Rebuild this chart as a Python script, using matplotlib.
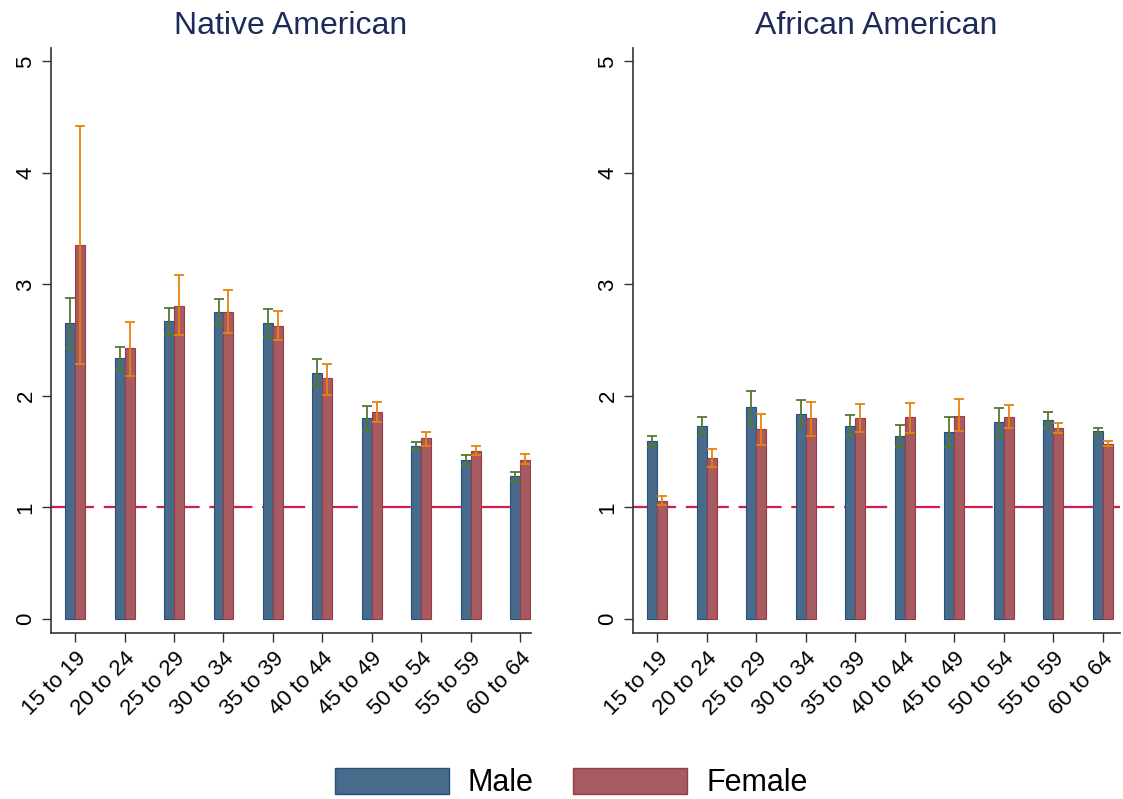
import numpy as np
import matplotlib
matplotlib.use("Agg")
import matplotlib.pyplot as plt
from matplotlib.patches import Patch

plt.rcParams["font.family"] = ["Liberation Sans", "DejaVu Sans"]
plt.rcParams["lines.scale_dashes"] = False

age_groups = ["15 to 19", "20 to 24", "25 to 29", "30 to 34", "35 to 39",
              "40 to 44", "45 to 49", "50 to 54", "55 to 59", "60 to 64"]

# Native American
na_male = [2.65, 2.34, 2.67, 2.75, 2.65, 2.21, 1.80, 1.55, 1.43, 1.28]
na_male_lo = [2.43, 2.23, 2.55, 2.64, 2.53, 2.09, 1.69, 1.52, 1.38, 1.24]
na_male_hi = [2.88, 2.44, 2.79, 2.87, 2.78, 2.33, 1.91, 1.59, 1.47, 1.32]
na_female = [3.35, 2.43, 2.81, 2.75, 2.63, 2.16, 1.86, 1.62, 1.51, 1.43]
na_female_lo = [2.29, 2.18, 2.55, 2.56, 2.50, 2.01, 1.77, 1.55, 1.47, 1.39]
na_female_hi = [4.42, 2.66, 3.08, 2.95, 2.76, 2.29, 1.95, 1.68, 1.55, 1.48]

# African American
aa_male = [1.60, 1.73, 1.90, 1.84, 1.73, 1.64, 1.68, 1.77, 1.78, 1.69]
aa_male_lo = [1.54, 1.65, 1.75, 1.72, 1.64, 1.54, 1.54, 1.63, 1.71, 1.66]
aa_male_hi = [1.64, 1.81, 2.04, 1.96, 1.83, 1.74, 1.81, 1.89, 1.86, 1.71]
aa_female = [1.06, 1.44, 1.70, 1.80, 1.80, 1.81, 1.82, 1.81, 1.71, 1.57]
aa_female_lo = [1.02, 1.36, 1.56, 1.64, 1.68, 1.67, 1.69, 1.71, 1.67, 1.55]
aa_female_hi = [1.10, 1.52, 1.84, 1.95, 1.93, 1.94, 1.97, 1.92, 1.76, 1.60]

male_color = "#486b8c"
male_edge = "#24507a"
female_color = "#a65b60"
female_edge = "#9a3a48"
male_err = "#55772f"
female_err = "#e8820c"
ref_color = "#cc1f4a"
title_color = "#1c2b59"
spine_color = "#333333"


def draw_panel(ax, title, male, male_lo, male_hi, female, female_lo, female_hi, xmax):
    x = np.arange(len(age_groups))
    w = 0.2
    male = np.array(male)
    female = np.array(female)

    # reference line at 1 (drawn under the bars)
    ax.axhline(1, color=ref_color, lw=1.6, dashes=(31, 7), zorder=1)

    ax.bar(x - w / 2, male, width=w, color=male_color, edgecolor=male_edge,
           linewidth=0.8, zorder=2)
    ax.bar(x + w / 2, female, width=w, color=female_color, edgecolor=female_edge,
           linewidth=0.8, zorder=2)

    m_err = [male - np.array(male_lo), np.array(male_hi) - male]
    f_err = [female - np.array(female_lo), np.array(female_hi) - female]
    ax.errorbar(x - w / 2, male, yerr=m_err, fmt="none", ecolor=male_err,
                elinewidth=1.3, capsize=3.6, capthick=1.3, zorder=3)
    ax.errorbar(x + w / 2, female, yerr=f_err, fmt="none", ecolor=female_err,
                elinewidth=1.3, capsize=3.6, capthick=1.3, zorder=3)

    ax.set_xlim(-0.49, xmax)
    ax.set_ylim(-0.125, 5.12)
    ax.set_yticks([0, 1, 2, 3, 4, 5])
    ax.set_yticklabels(["0", "1", "2", "3", "4", "5"], rotation=90, va="center")
    ax.set_xticks(x)
    ax.set_xticklabels(age_groups, rotation=45, ha="right", rotation_mode="anchor")
    ax.tick_params(axis="both", labelsize=16, length=6.5, width=1.0,
                   color=spine_color, pad=4)

    for side in ["top", "right"]:
        ax.spines[side].set_visible(False)
    for side in ["left", "bottom"]:
        ax.spines[side].set_color(spine_color)
        ax.spines[side].set_linewidth(1.2)

    ax.set_title(title, fontsize=23, color=title_color, pad=10)


fig = plt.figure(figsize=(11.23, 7.99), dpi=100)
ax1 = fig.add_axes([0.0454, 0.2078, 0.4274, 0.7322])
ax2 = fig.add_axes([0.5637, 0.2078, 0.4336, 0.7322])

draw_panel(ax1, "Native American", na_male, na_male_lo, na_male_hi,
           na_female, na_female_lo, na_female_hi, 9.22)
draw_panel(ax2, "African American", aa_male, aa_male_lo, aa_male_hi,
           aa_female, aa_female_lo, aa_female_hi, 9.35)

handles = [Patch(facecolor=male_color, edgecolor=male_edge, label="Male"),
           Patch(facecolor=female_color, edgecolor=female_edge, label="Female")]
fig.legend(handles=handles, loc="center", bbox_to_anchor=(571 / 1123, 1 - 783 / 799),
           ncol=2, frameon=False, fontsize=22, handlelength=3.73, handleheight=0.98,
           handletextpad=0.62, columnspacing=1.3)

fig.savefig("out.png", dpi=100)
